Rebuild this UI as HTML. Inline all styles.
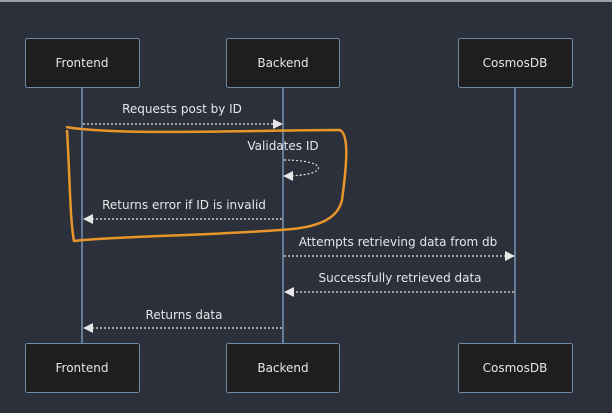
<!DOCTYPE html>
<html><head><meta charset="utf-8"><style>
html,body{margin:0;padding:0;background:#2b303b;}
svg{display:block}
text{font-family:"DejaVu Sans","Liberation Sans",sans-serif;font-size:12px;fill:#e6e6e6;text-anchor:middle}
</style></head><body>
<svg width="612" height="413" viewBox="0 0 612 413" xmlns="http://www.w3.org/2000/svg">
<defs>
<marker id="a" markerWidth="10" markerHeight="10" refX="9" refY="5" orient="auto" markerUnits="userSpaceOnUse">
<path d="M0,0 L10,5 L0,10 z" fill="#e6e6e6"/></marker>
</defs>
<rect width="612" height="413" fill="#2b303b"/>
<rect width="612" height="2" fill="#9a9ea6"/>
<g stroke="#7fa6cc" stroke-width="1.3">
<line x1="82" y1="87" x2="82" y2="343"/>
<line x1="283" y1="87" x2="283" y2="343"/>
<line x1="515" y1="87" x2="515" y2="343"/>
</g>
<g fill="#1e1e1e" stroke="#6f8aa6" stroke-width="1">
<rect x="25.5" y="38.5" width="114" height="49" rx="2"/>
<rect x="226.5" y="38.5" width="113" height="49" rx="2"/>
<rect x="458.5" y="38.5" width="114" height="49" rx="2"/>
<rect x="25.5" y="343.5" width="114" height="49" rx="2"/>
<rect x="226.5" y="343.5" width="113" height="49" rx="2"/>
<rect x="458.5" y="343.5" width="114" height="49" rx="2"/>
</g>
<text x="82" y="67">Frontend</text>
<text x="283" y="67">Backend</text>
<text x="515" y="67">CosmosDB</text>
<text x="82" y="372">Frontend</text>
<text x="283" y="372">Backend</text>
<text x="515" y="372">CosmosDB</text>
<g stroke="#e6e6e6" stroke-width="1.2" stroke-dasharray="2,2" fill="none" marker-end="url(#a)">
<line x1="83" y1="124" x2="282" y2="124"/>
<path d="M284,160 C330,160 330,176 284,176"/>
<line x1="282" y1="219" x2="84" y2="219"/>
<line x1="284" y1="256" x2="514" y2="256"/>
<line x1="514" y1="292" x2="285" y2="292"/>
<line x1="282" y1="328" x2="84" y2="328"/>
</g>
<text x="182" y="113">Requests post by ID</text>
<text x="283" y="150">Validates ID</text>
<text x="184" y="209">Returns error if ID is invalid</text>
<text x="398" y="246">Attempts retrieving data from db</text>
<text x="400" y="282">Successfully retrieved data</text>
<text x="184" y="319">Returns data</text>
<path d="M66,127 C120,136 250,130 340,130 C350,135 346,170 342,200 C338,218 320,228 280,230 C200,236 120,236 74,241 C70,220 70,180 67,130" fill="none" stroke="#e8962a" stroke-width="2.5" stroke-linejoin="round"/>
</svg>
</body></html>
